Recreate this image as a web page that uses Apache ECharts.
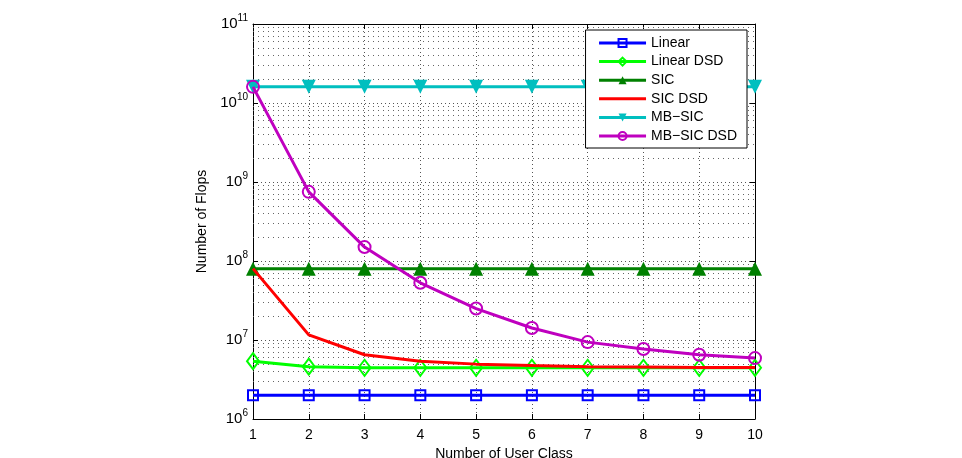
<!DOCTYPE html>
<html>
<head>
<meta charset="utf-8">
<script src="https://cdn.jsdelivr.net/npm/echarts@6/dist/echarts.min.js"></script>
<style>
  html, body { margin: 0; padding: 0; background: #fff; }
  #chart { width: 962px; height: 458px; }
</style>
</head>
<body>
<div id="chart"></div>
<script>
// number of user classes
const userClass = [1, 2, 3, 4, 5, 6, 7, 8, 9, 10]

// flops per scheme
const linear = [2.0e6, 2.0e6, 2.0e6, 2.0e6, 2.0e6, 2.0e6, 2.0e6, 2.0e6, 2.0e6, 2.0e6]
const linearDsd = [5.4e6, 4.6e6, 4.45e6, 4.45e6, 4.45e6, 4.45e6, 4.45e6, 4.45e6, 4.45e6, 4.45e6]
const sic = [8.0e7, 8.0e7, 8.0e7, 8.0e7, 8.0e7, 8.0e7, 8.0e7, 8.0e7, 8.0e7, 8.0e7]
const sicDsd = [8.0e7, 1.16e7, 6.5e6, 5.4e6, 4.95e6, 4.75e6, 4.6e6, 4.55e6, 4.5e6, 4.5e6]
const mbSic = [1.6e10, 1.6e10, 1.6e10, 1.6e10, 1.6e10, 1.6e10, 1.6e10, 1.6e10, 1.6e10, 1.6e10]
const mbSicDsd = [1.6e10, 7.5e8, 1.5e8, 5.3e7, 2.5e7, 1.42e7, 9.4e6, 7.7e6, 6.5e6, 5.9e6]

// minor grid lines (2..9 x 10^k)
const minorGrid = []
for (let k = 6; k < 11; k++) {
  for (let m = 2; m <= 9; m++) minorGrid.push({ yAxis: m * Math.pow(10, k) })
}

const font = 'Liberation Sans, Arial, sans-serif'
const pairs = arr => arr.map((v, i) => [userClass[i], v])

const chart = echarts.init(document.getElementById('chart'), null, { renderer: 'canvas' })

const gridLine = { show: true, lineStyle: { color: '#555', type: [1, 3], width: 1 } }

// helper for a MATLAB-like line series
function makeSeries(name, data, color, symbol, size, hollow, extra) {
  return Object.assign({
    name: name,
    type: 'line',
    data: pairs(data),
    symbol: symbol,
    symbolSize: size,
    lineStyle: { width: 3, color: color },
    itemStyle: hollow
      ? { color: 'rgba(0,0,0,0)', borderColor: color, borderWidth: 2 }
      : { color: color, borderColor: color, borderWidth: 0 },
    z: 3
  }, extra || {})
}

const option = {
  backgroundColor: '#fff',
  animation: false,
  textStyle: { fontFamily: font },
  grid: { left: 253, top: 24, right: 207, bottom: 39, show: false, outerBoundsMode: 'none' },
  legend: {
    orient: 'vertical',
    right: 215,
    top: 30,
    padding: [6, 10, 5, 12],
    itemGap: 4.6,
    itemWidth: 47,
    itemHeight: 10,
    backgroundColor: '#fff',
    borderColor: '#000',
    borderWidth: 1,
    lineStyle: { width: 3 },
    textStyle: { fontSize: 14, color: '#000', fontFamily: font, lineHeight: 14 },
    data: [
      'Linear',
      'Linear DSD',
      'SIC',
      { name: 'SIC DSD', itemStyle: { opacity: 0 } },
      'MB\u2212SIC',
      'MB\u2212SIC DSD'
    ]
  },
  xAxis: [
    {
      type: 'value',
      min: 1,
      max: 10,
      interval: 1,
      name: 'Number of User Class',
      nameLocation: 'middle',
      nameGap: 26,
      nameTextStyle: { fontSize: 14, color: '#000' },
      axisLine: { lineStyle: { color: '#000', width: 1 } },
      axisTick: { inside: true, length: 5, lineStyle: { color: '#000' } },
      axisLabel: { fontSize: 14, color: '#000', margin: 9 },
      splitLine: gridLine
    },
    {
      type: 'value',
      position: 'top',
      min: 1,
      max: 10,
      interval: 1,
      axisLine: { show: true, onZero: false, lineStyle: { color: '#000', width: 1 } },
      axisTick: { inside: true, length: 5, lineStyle: { color: '#000' } },
      axisLabel: { show: false },
      splitLine: { show: false }
    }
  ],
  yAxis: [
    {
      type: 'log',
      logBase: 10,
      min: 1e6,
      max: 1e11,
      name: 'Number of Flops',
      nameLocation: 'middle',
      nameGap: 42,
      nameTextStyle: { fontSize: 14, color: '#000' },
      axisLine: { show: true, lineStyle: { color: '#000', width: 1 } },
      axisTick: { show: true, inside: true, length: 5, lineStyle: { color: '#000' } },
      axisLabel: {
        color: '#000',
        margin: 5,
        formatter: v => '{b|10}{s|' + Math.round(Math.log10(v)) + '}',
        rich: {
          b: { fontSize: 15, color: '#000', fontFamily: font },
          s: { fontSize: 10, color: '#000', fontFamily: font, padding: [0, 0, 12, 0] }
        }
      },
      splitLine: gridLine
    },
    {
      type: 'log',
      logBase: 10,
      min: 1e6,
      max: 1e11,
      position: 'right',
      axisLine: { show: true, lineStyle: { color: '#000', width: 1 } },
      axisTick: { show: true, inside: true, length: 5, lineStyle: { color: '#000' } },
      axisLabel: { show: false },
      splitLine: { show: false }
    }
  ],
  series: [
    makeSeries('Linear', linear, '#0000ff', 'rect', 10, true, {
      markLine: {
        silent: true,
        symbol: 'none',
        label: { show: false },
        lineStyle: { color: '#666', type: [1, 4], width: 1 },
        emphasis: { disabled: true },
        data: minorGrid,
        z: 1
      }
    }),
    makeSeries('Linear DSD', linearDsd, '#00ff00', 'diamond', [12, 16], true),
    makeSeries('SIC', sic, '#008000', 'triangle', 14, false),
    makeSeries('SIC DSD', sicDsd, '#ff0000', 'none', 0, false, { z: 4 }),
    makeSeries('MB\u2212SIC', mbSic, '#00bfbf', 'triangle', 14, false, { symbolRotate: 180 }),
    makeSeries('MB\u2212SIC DSD', mbSicDsd, '#bf00bf', 'circle', 12, true, { z: 5 })
  ]
}

chart.setOption(option)
</script>
</body>
</html>
